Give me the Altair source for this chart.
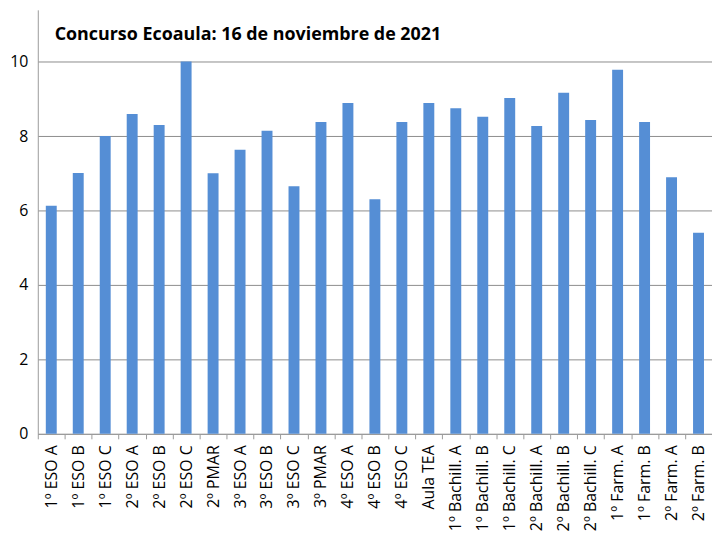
import altair as alt
import pandas as pd

grupos = [
    "1º ESO A", "1º ESO B", "1º ESO C", "2º ESO A", "2º ESO B", "2º ESO C",
    "2º PMAR", "3º ESO A", "3º ESO B", "3º ESO C", "3º PMAR", "4º ESO A",
    "4º ESO B", "4º ESO C", "Aula TEA", "1º Bachill. A", "1º Bachill. B",
    "1º Bachill. C", "2º Bachill. A", "2º Bachill. B", "2º Bachill. C",
    "1º Farm. A", "1º Farm. B", "2º Farm. A", "2º Farm. B",
]
notas = [
    6.13, 7.01, 8.0, 8.59, 8.3, 10.0,
    7.0, 7.63, 8.14, 6.65, 8.38, 8.89,
    6.3, 8.38, 8.89, 8.75, 8.52,
    9.02, 8.27, 9.16, 8.43,
    9.78, 8.38, 6.89, 5.4,
]
titulo = "Concurso Ecoaula: 16 de noviembre de 2021"

df = pd.DataFrame({"grupo": grupos, "nota": notas})

fuente = "Open Sans"

base = alt.Chart(df)

barras = base.mark_bar(color="#558ED5", size=11).encode(
    x=alt.X(
        "grupo:N",
        sort=grupos,
        title=None,
        scale=alt.Scale(paddingInner=0, paddingOuter=0),
        axis=alt.Axis(
            labelAngle=-90,
            labelFont=fuente,
            labelFontSize=16,
            labelColor="#000000",
            labelPadding=6,
            tickBand="extent",
            tickColor="#9a9a9a",
            tickSize=5,
            domainColor="#9a9a9a",
            grid=False,
        ),
    ),
    y=alt.Y(
        "nota:Q",
        title=None,
        scale=alt.Scale(domain=[0, 11.39], nice=False),
        axis=alt.Axis(
            values=[0, 2, 4, 6, 8, 10],
            labelFont=fuente,
            labelFontSize=16,
            labelColor="#000000",
            labelPadding=10,
            ticks=False,
            domainColor="#9a9a9a",
            gridColor="#8c8c8c",
            gridWidth=1,
        ),
    ),
)

texto = (
    alt.Chart(pd.DataFrame({"t": [titulo]}))
    .mark_text(
        font=fuente,
        fontSize=18,
        fontWeight="bold",
        align="left",
        baseline="middle",
        color="#000000",
    )
    .encode(text="t:N", x=alt.value(17), y=alt.value(25))
)

chart = (
    alt.layer(barras, texto)
    .properties(
        width=679,
        height=427,
        autosize=alt.AutoSizeParams(type="none"),
        padding={"left": 30, "top": 0, "right": 0, "bottom": 100},
    )
    .configure_view(stroke=None)
)

chart.save("out.html", embed_options={"renderer": "svg", "actions": False})
